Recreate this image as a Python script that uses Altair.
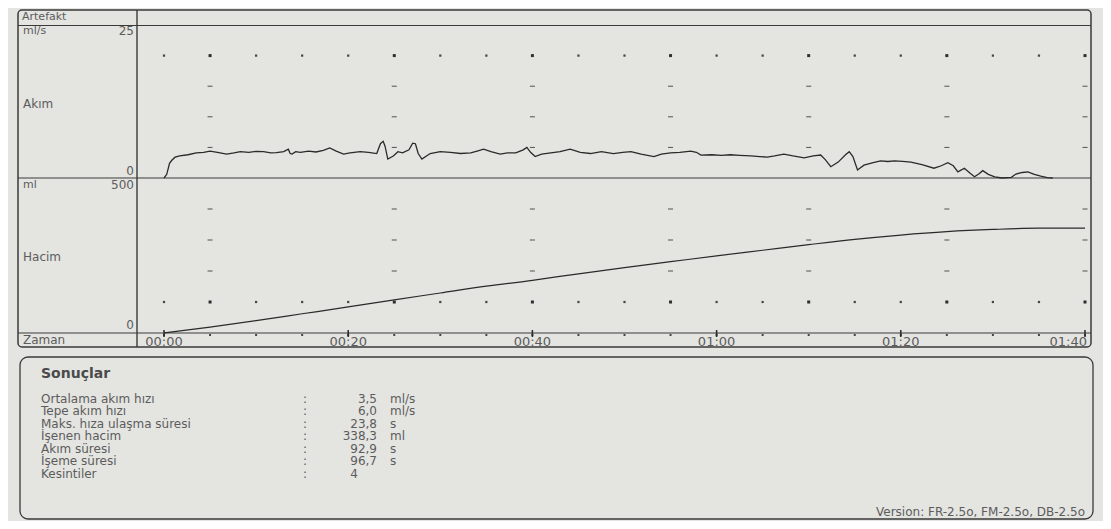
import altair as alt
import pandas as pd

# ---------------- data ----------------
FLOW_T = [0.0, 0.3, 0.6, 0.85, 1.2, 1.7, 2.6, 3.5, 4.3, 5.0, 5.8, 6.8, 7.6, 8.3, 9.2, 10.0,
          10.8, 11.6, 12.2, 13.0, 13.5, 13.7, 13.9, 14.3, 14.8, 15.7, 16.5, 17.3, 18.0, 18.7,
          19.5, 20.2, 21.3, 22.2, 23.1, 23.5, 23.8, 24.0, 24.3, 24.9, 25.4, 25.9, 26.6, 27.0,
          27.3, 27.6, 28.0, 28.9, 30.0, 31.1, 32.2, 33.3, 34.0, 34.7, 35.5, 36.5, 37.3, 38.2,
          39.0, 39.4, 39.8, 40.3, 41.0, 42.0, 43.0, 44.1, 45.2, 46.3, 47.5, 48.8, 49.8, 50.7,
          51.8, 53.2, 54.0, 55.0, 56.0, 57.2, 57.8, 58.3, 59.5, 60.5, 61.5, 62.5, 63.7, 64.7,
          65.5, 66.3, 67.3, 68.3, 69.5, 70.5, 71.3, 71.8, 72.4, 73.2, 74.0, 74.4, 74.8, 75.3,
          76.0, 77.0, 77.8, 78.6, 79.3, 80.2, 81.1, 82.3, 83.6, 84.4, 85.1, 85.7, 86.2, 86.9,
          87.5, 88.0, 88.5, 88.9, 89.5, 90.2, 91.0, 92.0, 92.5, 93.2, 93.8, 94.5, 95.2, 95.9,
          96.5]
FLOW_V = [0.0, 0.6, 2.4, 2.9, 3.4, 3.6, 3.8, 4.1, 4.2, 4.4, 4.2, 3.9, 4.1, 4.3, 4.2, 4.35,
          4.3, 4.1, 4.15, 4.3, 4.7, 4.0, 3.9, 4.3, 4.2, 4.4, 4.25, 4.5, 4.9, 4.4,
          3.9, 4.1, 4.3, 4.2, 4.0, 5.6, 6.0, 5.2, 3.1, 3.6, 4.3, 4.1, 4.6, 5.7,
          5.6, 4.0, 3.1, 4.0, 4.3, 4.2, 4.0, 4.1, 4.4, 4.7, 4.3, 3.9, 4.1, 4.1,
          4.6, 5.0, 4.2, 3.5, 3.9, 4.1, 4.3, 4.7, 4.2, 4.0, 4.3, 4.0, 4.2, 4.3,
          3.9, 3.5, 3.9, 4.1, 4.2, 4.4, 4.2, 3.75, 3.8, 3.7, 3.8, 3.7, 3.6, 3.5,
          3.4, 3.6, 3.9, 3.6, 3.3, 3.6, 3.75, 3.0, 1.85, 2.6, 3.8, 4.3, 3.5, 1.3,
          2.1, 2.5, 2.8, 2.7, 2.8, 2.7, 2.6, 2.2, 1.6, 2.0, 2.5, 2.0, 1.0, 1.6,
          0.8, 0.2, 0.7, 1.2, 0.6, 0.2, 0.0, 0.1, 0.65, 0.9, 1.0, 0.6, 0.3, 0.05,
          0.0]

VOL_T = [0, 5, 10, 15, 20, 25, 30, 35, 40, 45, 50, 55, 60, 65, 70, 75, 80, 85, 90, 95, 100]
VOL_V = [0, 19, 40, 62, 84, 107, 129, 151, 170, 191, 211, 230, 249, 267, 285, 302, 316, 327,
         334, 338, 338]

DOT_T = [0, 5, 10, 15, 20, 25, 30, 35, 40, 45, 50, 55, 60, 65, 70, 75, 80, 85, 90, 95, 100]
DASH_T = [5, 25, 40, 55, 70, 85, 100]
FLOW_DOT_V = [20]
FLOW_DASH_V = [5, 10, 15]
VOL_DOT_V = [100]
VOL_DASH_V = [200, 300, 400]

TICK_T = [0, 20, 40, 60, 80, 100]
TICK_LABELS = ["00:00", "00:20", "00:40", "01:00", "01:20", "01:40"]

RES_LABELS = ["Ortalama akım hızı", "Tepe akım hızı", "Maks. hıza ulaşma süresi",
              "İşenen hacim", "Akım süresi", "İşeme süresi", "Kesintiler"]
RES_VALUES = ["3,5", "6,0", "23,8", "338,3", "92,9", "96,7", "4"]
RES_UNITS = ["ml/s", "ml/s", "s", "ml", "s", "s", ""]

# ---------------- styling / layout ----------------
W, H = 1095, 513
OX, OY = 8, 8
BG = "#e4e4e1"
INK = "#2a2a2a"
FRAME = "#3a3a3a"
TXT = "#5c5c5c"
FONT = "DejaVu Sans"
RFS = 12  # results font size


def px(x):
    return x - OX


def py(y):
    return y - OY


XS = alt.Scale(domain=[0, 100], range=[px(164), px(1085)], nice=False, zero=False)
YF = alt.Scale(domain=[0, 25], range=[py(178), py(25)], nice=False)
YV = alt.Scale(domain=[0, 500], range=[py(333), py(178)], nice=False)
YR = alt.Scale(domain=[0, 6], range=[py(399), py(473.5)], nice=False)

one = pd.DataFrame({"a": [0]})
df_flow = pd.DataFrame({"t": FLOW_T, "v": FLOW_V})
df_vol = pd.DataFrame({"t": VOL_T, "v": VOL_V})
df_fdots = pd.DataFrame([{"t": t, "v": v} for t in DOT_T for v in FLOW_DOT_V])
df_fdash = pd.DataFrame([{"t": t, "v": v} for t in DASH_T for v in FLOW_DASH_V])
df_fbig = pd.DataFrame([{"t": t, "v": v} for t in DASH_T for v in FLOW_DOT_V])
df_vdots = pd.DataFrame([{"t": t, "v": v} for t in DOT_T for v in VOL_DOT_V])
df_vdash = pd.DataFrame([{"t": t, "v": v} for t in DASH_T for v in VOL_DASH_V])
df_vbig = pd.DataFrame([{"t": t, "v": v} for t in DASH_T for v in VOL_DOT_V])
df_axdots = pd.DataFrame({"t": DOT_T})
df_ticks = pd.DataFrame({"t": TICK_T, "label": TICK_LABELS})
df_res = pd.DataFrame({"row": list(range(len(RES_LABELS))), "label": RES_LABELS,
                       "value": RES_VALUES, "unit": RES_UNITS})

layers = []


def hline(x1, x2, y, w=1.2, c=FRAME):
    return alt.Chart(one).mark_rule(color=c, strokeWidth=w).encode(
        x=alt.value(px(x1)), x2=alt.value(px(x2)), y=alt.value(py(y)))


def vline(x, y1, y2, w=1.4, c=FRAME):
    return alt.Chart(one).mark_rule(color=c, strokeWidth=w).encode(
        x=alt.value(px(x)), y=alt.value(py(y1)), y2=alt.value(py(y2)))


def label(text, x, y, size=12, align="left", weight="normal", color=TXT):
    return alt.Chart(one).mark_text(text=text, font=FONT, fontSize=size, align=align,
                                    baseline="middle", fontWeight=weight, color=color).encode(
        x=alt.value(px(x)), y=alt.value(py(y)))


# frames
layers.append(alt.Chart(one).mark_rect(fillOpacity=0, stroke=FRAME, strokeWidth=1.5,
                                       cornerRadius=4).encode(
    x=alt.value(px(18)), x2=alt.value(px(1091)), y=alt.value(py(10)), y2=alt.value(py(347))))
layers.append(hline(18, 1091, 25.5))
layers.append(hline(18, 1091, 178))
layers.append(hline(18, 1091, 333))
layers.append(vline(137, 10, 347))
layers.append(alt.Chart(one).mark_rect(fillOpacity=0, stroke=FRAME, strokeWidth=1.3,
                                       cornerRadius=8).encode(
    x=alt.value(px(20)), x2=alt.value(px(1093)), y=alt.value(py(357)), y2=alt.value(py(519))))

# left column texts
layers += [
    label("Artefakt", 22, 17, 11),
    label("ml/s", 23, 31, 11),
    label("25", 134, 31, 12, "right"),
    label("Akım", 23, 104, 12),
    label("0", 134, 171, 12, "right"),
    label("ml", 23, 185, 11),
    label("500", 134, 185, 12, "right"),
    label("Hacim", 23, 257, 12),
    label("0", 134, 325, 12, "right"),
    label("Zaman", 23, 340, 12),
]

# grid — flow panel
enc_f = dict(x=alt.X("t:Q", scale=XS, axis=None), y=alt.Y("v:Q", scale=YF, axis=None))
enc_v = dict(x=alt.X("t:Q", scale=XS, axis=None), y=alt.Y("v:Q", scale=YV, axis=None))
layers.append(alt.Chart(df_fdots).mark_square(size=5, color=INK, opacity=0.85).encode(**enc_f))
layers.append(alt.Chart(df_fbig).mark_square(size=9, color=INK, opacity=0.9).encode(**enc_f))
layers.append(alt.Chart(df_fdash).mark_tick(orient="horizontal", size=5, thickness=1,
                                            color=INK, opacity=0.8).encode(**enc_f))
# grid — volume panel
layers.append(alt.Chart(df_vdots).mark_square(size=5, color=INK, opacity=0.85).encode(**enc_v))
layers.append(alt.Chart(df_vbig).mark_square(size=9, color=INK, opacity=0.9).encode(**enc_v))
layers.append(alt.Chart(df_vdash).mark_tick(orient="horizontal", size=5, thickness=1,
                                            color=INK, opacity=0.8).encode(**enc_v))

# curves
layers.append(alt.Chart(df_flow).mark_line(color=INK, strokeWidth=1.3).encode(**enc_f))
layers.append(alt.Chart(df_vol).mark_line(color=INK, strokeWidth=1.2,
                                          interpolate="monotone").encode(**enc_v))

# time axis
layers.append(alt.Chart(df_axdots).mark_square(size=4, color=INK, opacity=0.85).encode(
    x=alt.X("t:Q", scale=XS, axis=None), y=alt.value(py(335))))
layers.append(alt.Chart(df_ticks).mark_rule(color=INK, strokeWidth=1.5).encode(
    x=alt.X("t:Q", scale=XS, axis=None), y=alt.value(py(330)), y2=alt.value(py(337))))
layers.append(alt.Chart(df_ticks).transform_filter("datum.t < 100").mark_text(
    font=FONT, fontSize=13, color=TXT, baseline="middle").encode(
    x=alt.X("t:Q", scale=XS, axis=None), y=alt.value(py(342)), text="label:N"))
layers.append(alt.Chart(df_ticks).transform_filter("datum.t >= 100").mark_text(
    font=FONT, fontSize=13, color=TXT, baseline="middle", align="right", dx=2).encode(
    x=alt.X("t:Q", scale=XS, axis=None), y=alt.value(py(342)), text="label:N"))

# results box
layers.append(label("Sonuçlar", 41, 374, 14, weight="bold", color="#4a4a4a"))
enc_r = dict(y=alt.Y("row:Q", scale=YR, axis=None))
layers.append(alt.Chart(df_res).mark_text(font=FONT, fontSize=RFS, color=TXT, align="left",
                                          baseline="middle").encode(
    x=alt.value(px(41)), text="label:N", **enc_r))
layers.append(alt.Chart(df_res).mark_text(text=":", font=FONT, fontSize=RFS, color=TXT,
                                          baseline="middle").encode(
    x=alt.value(px(305)), **enc_r))
layers.append(alt.Chart(df_res).transform_filter("indexof(datum.value, ',') >= 0").mark_text(
    font=FONT, fontSize=RFS, color=TXT, align="right", baseline="middle").encode(
    x=alt.value(px(377)), text="value:N", **enc_r))
layers.append(alt.Chart(df_res).transform_filter("indexof(datum.value, ',') < 0").mark_text(
    font=FONT, fontSize=RFS, color=TXT, align="right", baseline="middle").encode(
    x=alt.value(px(358)), text="value:N", **enc_r))
layers.append(alt.Chart(df_res).mark_text(font=FONT, fontSize=RFS, color=TXT, align="left",
                                          baseline="middle").encode(
    x=alt.value(px(390)), text="unit:N", **enc_r))
layers.append(label("Version: FR-2.5o, FM-2.5o, DB-2.5o", 1085, 512, 12, "right"))

chart = alt.layer(*layers).resolve_scale(y="independent").properties(
    width=W, height=H, autosize="none", padding=0, background=BG
).configure_view(strokeWidth=0)

chart.save("out.html", embed_options={"renderer": "svg", "actions": False})
